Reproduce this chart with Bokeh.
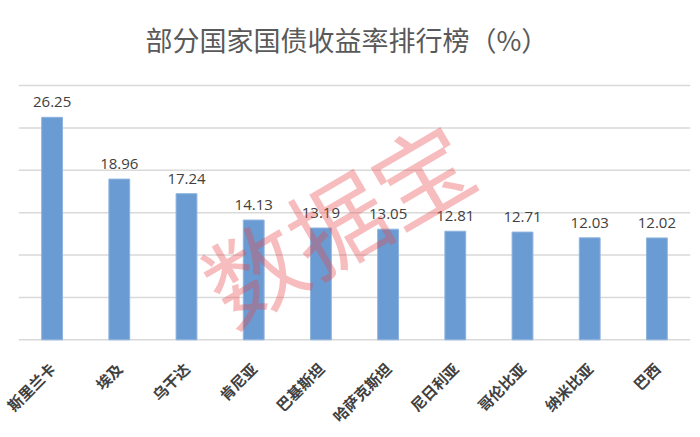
import math
from bokeh.plotting import figure
from bokeh.models import ColumnDataSource, Range1d, Label, Span
from bokeh.core.properties import value
from bokeh.embed import file_html
from bokeh.resources import INLINE

countries = ["斯里兰卡", "埃及", "乌干达", "肯尼亚", "巴基斯坦", "哈萨克斯坦", "尼日利亚", "哥伦比亚", "纳米比亚", "巴西"]
yields = [26.25, 18.96, 17.24, 14.13, 13.19, 13.05, 12.81, 12.71, 12.03, 12.02]
grid_ticks = [0, 5, 10, 15, 20, 25, 30]
title_text = "部分国家国债收益率排行榜（%）"
watermark = "数据宝"

src = ColumnDataSource(dict(c=countries, v=yields, lab=[f"{x:.2f}" for x in yields]))

# y range extends above the top gridline (room for the title) and a little below 0
p = figure(width=700, height=437, x_range=countries, y_range=Range1d(-0.67, 40.03),
           output_backend="svg", toolbar_location=None, title=None,
           min_border_left=18, min_border_right=10, min_border_top=0, min_border_bottom=92)
p.outline_line_color = None
p.background_fill_color = "white"
p.border_fill_color = "white"

# horizontal gridlines, drawn beneath the bars
for t in grid_ticks:
    p.add_layout(Span(location=t, dimension="width", line_color="#d9d9d9",
                      line_width=1.5, level="underlay"))

p.vbar(x="c", top="v", bottom=0, width=0.31, source=src, fill_color="#6a9bd2",
       line_color="#8fb4df", line_width=1)

p.text(x="c", y="v", text="lab", source=src, text_align="center", text_baseline="alphabetic",
       y_offset=-15, text_font=value("Open Sans"), text_font_size="15px", text_color="#404040")

p.yaxis.visible = False
p.ygrid.grid_line_color = None
p.xgrid.grid_line_color = None

ax = p.xaxis[0]
ax.axis_line_color = None
ax.major_tick_line_color = None
ax.minor_tick_line_color = None
ax.major_label_orientation = math.pi / 4
ax.major_label_standoff = 14
ax.major_label_text_font = "Noto Sans CJK SC"
ax.major_label_text_font_size = "15px"
ax.major_label_text_font_style = "bold"
ax.major_label_text_color = "#404040"
p.x_range.range_padding = 0

title = Label(x=127, y=306.5, x_units="screen", y_units="screen", text=title_text,
              text_font="Noto Sans CJK SC", text_font_size="27px", text_color="#595959",
              text_align="left", text_baseline="middle")
p.add_layout(title)

wm = Label(x=317, y=126, x_units="screen", y_units="screen", text=watermark,
           text_font="Noto Sans CJK SC", text_font_size="97px", text_color="#e8474a",
           text_alpha=0.36, angle=0.53, text_align="center", text_baseline="middle")
p.add_layout(wm)

open("out.html", "w").write(file_html(p, INLINE))
